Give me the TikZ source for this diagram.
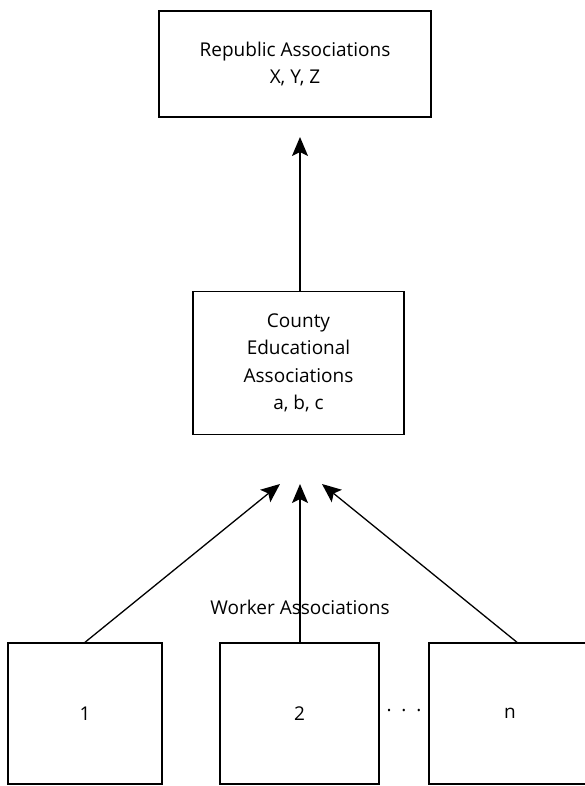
\documentclass[tikz,border=0pt]{standalone}
\usepackage{fontspec}
\setmainfont{Open Sans}
\usetikzlibrary{arrows.meta}
\begin{document}
\begin{tikzpicture}[x=1pt,y=-1pt,
  every node/.style={font=\fontsize{19}{27.5}\selectfont},
  box/.style={draw, line width=1.4pt, rectangle, inner sep=0pt, align=center},
  arr/.style={line width=1.3pt, -{Stealth[length=19pt,width=16pt,inset=4pt]}}]
\useasboundingbox (0,0) rectangle (584,786);

% upper level
\node[box, minimum width=272pt, minimum height=106pt] (rep) at (295,64)
  {Republic Associations\\X, Y, Z};

% middle level
\node[box, minimum width=211pt, minimum height=143pt] (county) at (298.5,363)
  {County\\Educational\\Associations\\a, b, c};

% worker associations
\node[box, minimum width=154pt, minimum height=141pt] (w1) at (85,713.5) {1};
\node[box, minimum width=159pt, minimum height=141pt] (w2) at (299.5,713.5) {2};
\node[box, minimum width=162pt, minimum height=141pt] (wn) at (510,713.5) {n};
\node (dots) at (404,711) {.\ \ .\ \ .};
\node (wlabel) at (300,607) {Worker Associations};

% arrow ends
\coordinate (tipTop) at (300,137);
\coordinate (tipL) at (280,484);
\coordinate (tipM) at (300,484);
\coordinate (tipR) at (322,484);

\draw[arr] (county.north -| tipTop) -- (tipTop);
\draw[arr] (w1.north) -- (tipL);
\draw[arr] (w2.north -| tipM) -- (tipM);
\draw[arr] ([xshift=7pt]wn.north) -- (tipR);
\end{tikzpicture}
\end{document}
